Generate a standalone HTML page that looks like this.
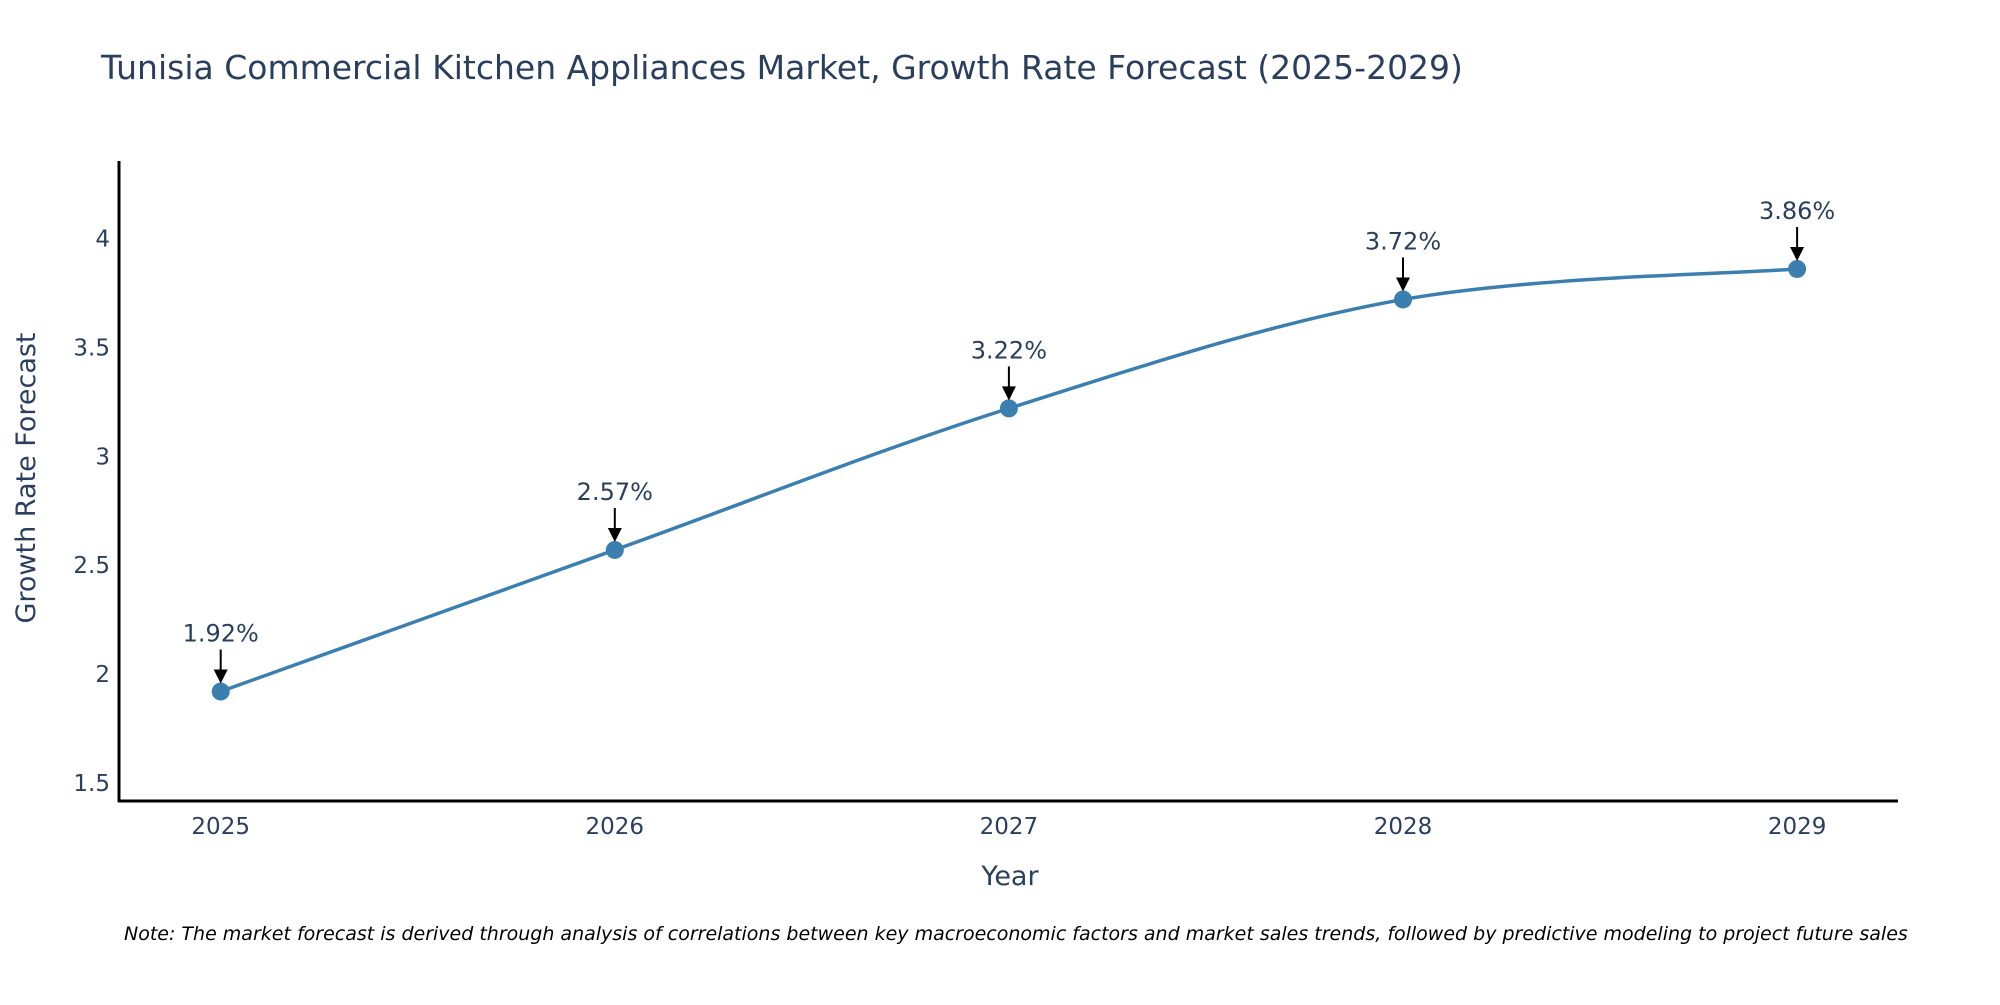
<!DOCTYPE html>
<html><head><meta charset="utf-8"><style>
body{margin:0;background:#fff;}
svg text{font-family:"DejaVu Sans","Liberation Sans",sans-serif;}
</style></head><body>
<svg id="chart" width="2000" height="1000" xmlns="http://www.w3.org/2000/svg">
<text x="101" y="79" font-size="33" fill="#2a3f5f">Tunisia Commercial Kitchen Appliances Market, Growth Rate Forecast (2025-2029)</text>
<g id="yticks"></g>
<g id="xticks"></g>
<line x1="119" y1="161" x2="119" y2="802" stroke="#000" stroke-width="3"/>
<line x1="118" y1="801" x2="1898" y2="801" stroke="#000" stroke-width="3"/>
<path id="line" fill="none" stroke="#3a7fb0" stroke-width="3.5"/>
<g id="points"></g>
<g id="annots"></g>
<text x="1010" y="885" font-size="27" fill="#2a3f5f" text-anchor="middle">Year</text>
<text transform="translate(35,478) rotate(-90)" font-size="27" fill="#2a3f5f" text-anchor="middle">Growth Rate Forecast</text>
<text x="124" y="940" font-size="19" font-style="italic" fill="#000">Note: The market forecast is derived through analysis of correlations between key macroeconomic factors and market sales trends, followed by predictive modeling to project future sales</text>
</svg>
<script>
const years=[2025,2026,2027,2028,2029];
const values=[1.92,2.57,3.22,3.72,3.86];
const labels=["1.92%","2.57%","3.22%","3.72%","3.86%"];
const yTicks=[1.5,2,2.5,3,3.5,4];
const yTickLabels=["1.5","2","2.5","3","3.5","4"];
const NS="http://www.w3.org/2000/svg";
const xs=v=>220.7+(v-2025)*394.1;
const ys=v=>783-(v-1.5)*217.8;
function mk(tag,attrs,parent){const e=document.createElementNS(NS,tag);for(const k in attrs)e.setAttribute(k,attrs[k]);parent.appendChild(e);return e;}
const yt=document.getElementById('yticks'),xt=document.getElementById('xticks');
yTicks.forEach((t,i)=>{const e=mk('text',{x:110,y:ys(t)+8,'font-size':23,fill:'#2a3f5f','text-anchor':'end'},yt);e.textContent=yTickLabels[i];

});
years.forEach(y=>{const e=mk('text',{x:xs(y),y:834,'font-size':23,fill:'#2a3f5f','text-anchor':'middle'},xt);e.textContent=String(y);

});
const P=years.map((y,i)=>[xs(y),ys(values[i])]);
let d='M'+P[0][0]+','+P[0][1];const s=1/6;
for(let i=0;i<P.length-1;i++){const p0=P[Math.max(i-1,0)],p1=P[i],p2=P[i+1],p3=P[Math.min(i+2,P.length-1)];
d+=' C'+(p1[0]+(p2[0]-p0[0])*s)+','+(p1[1]+(p2[1]-p0[1])*s)+' '+(p2[0]-(p3[0]-p1[0])*s)+','+(p2[1]-(p3[1]-p1[1])*s)+' '+p2[0]+','+p2[1];}
document.getElementById('line').setAttribute('d',d);
const pts=document.getElementById('points'),an=document.getElementById('annots');
P.forEach((p,i)=>{const c=mk('circle',{cx:p[0],cy:p[1],r:9,fill:'#3a7fb0'},pts);


const l=mk('line',{x1:p[0],y1:p[1]-42,x2:p[0],y2:p[1]-20,stroke:'#000','stroke-width':2},an);


const h=mk('polygon',{points:(p[0]-7)+','+(p[1]-22)+' '+(p[0]+7)+','+(p[1]-22)+' '+p[0]+','+(p[1]-8),fill:'#000'},an);


const t=mk('text',{x:p[0],y:p[1]-50,'font-size':24,fill:'#2a3f5f','text-anchor':'middle'},an);t.textContent=labels[i];

});
</script>
</body></html>
